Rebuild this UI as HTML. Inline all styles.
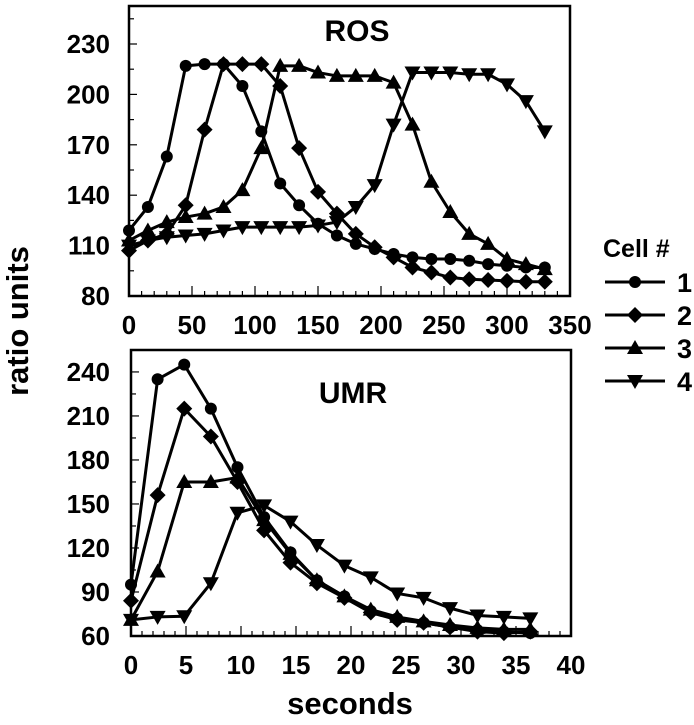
<!DOCTYPE html>
<html><head><meta charset="utf-8"><style>
html,body{margin:0;padding:0;background:#fff;}
svg text{font-family:"Liberation Sans",sans-serif;font-weight:bold;fill:#000;}
</style></head><body>
<svg id="chart" width="694" height="720" xmlns="http://www.w3.org/2000/svg">
<text transform="translate(28,321) rotate(-90)" text-anchor="middle" font-size="31">ratio units</text>
<text x="350" y="714" text-anchor="middle" font-size="31">seconds</text>
<text x="357" y="41" text-anchor="middle" font-size="30">ROS</text>
<text x="353" y="403" text-anchor="middle" font-size="30">UMR</text>
<g id="legend">
<text x="603" y="257" font-size="25">Cell #</text>
</g>
</svg>
<script>
// ROS panel data
const rosTimes = [0,15,30,45,60,75,90,105,120,135,150,165,180,195,210,225,240,255,270,285,300,315,330];
const rosCell1 = [119,133,163,217,218,218,205,178,147,134,123,116,111,108,105,103,102,102,101,99,98,97,97];
const rosCell2 = [107,113,117,134,179,218,218,218,205,168,142,129,117,109,103,97,94,91,90,89.5,89,88.5,88.5];
const rosCell3 = [113,119,124,127,129,133,143,168,217,217,213,211,211,211,207,182,148,130,117,111,102,99,96];
const rosCell4 = [110,113,115,116,117,119,121,121,121,121,122,124,133,146,182,213,213,213,212,212,206,196,178];
const rosYTicks = [80,110,140,170,200,230];
const rosXTicks = [0,50,100,150,200,250,300,350];
// UMR panel data
const umrTimes = [0,2.42,4.84,7.26,9.68,12.1,14.5,16.9,19.4,21.8,24.2,26.6,29,31.5,33.9,36.3];
const umrCell1 = [95,235,245,215,175,141,117,98,87,77,72,69,66,64,63,62];
const umrCell2 = [84,156,215,196,165,132,110,96,86,76,71,69,66,63,62,63];
const umrCell3 = [71,104,165,165,168,139,116,98,87,78,73,70,67.5,65.5,64.5,64.5];
const umrCell4 = [71,73,73.5,96,144,149,138,122,108,100,89,86,79,74,73,72];
const umrYTicks = [60,90,120,150,180,210,240];
const umrXTicks = [0,5,10,15,20,25,30,35,40];
const cellLabels = ['1','2','3','4'];

const NS='http://www.w3.org/2000/svg';
const svg=document.getElementById('chart');
function mk(tag,attrs,parent){const e=document.createElementNS(NS,tag);for(const k in attrs)e.setAttribute(k,attrs[k]);(parent||svg).appendChild(e);return e;}

const rosX=v=>129+(v-0)*(441/350);
const rosY=v=>296-(v-80)*1.68;
const umrX=v=>131+v*11;
const umrY=v=>636-(v-60)*1.467;

function marker(shape,cx,cy,parent){
  let e;
  if(shape===0){e=mk('circle',{cx:cx,cy:cy,r:6},parent);}
  else if(shape===1){e=mk('polygon',{points:`${cx},${cy-8} ${cx+8},${cy} ${cx},${cy+8} ${cx-8},${cy}`},parent);}
  else if(shape===2){e=mk('polygon',{points:`${cx},${cy-8} ${cx+8},${cy+6} ${cx-8},${cy+6}`},parent);}
  else {e=mk('polygon',{points:`${cx-8},${cy-6} ${cx+8},${cy-6} ${cx},${cy+8}`},parent);}
  e.setAttribute('fill','#000');
  return e;
}

function panel(name,x0,x1,y0,y1,xs,ys,times,series,yTicks,xTicks,yMinorStep,xMinorStep,yMin,yMax,xMax){
  const g=mk('g',{});
  
  
  const L=xs(0),R=xs(xMax),B=ys(yMin),T=y0;
  const fr=mk('rect',{x:L,y:T,width:R-L,height:B-T,fill:'none',stroke:'#000','stroke-width':2.5},g);
  
  
  for(let v=yMin;v<=yMax+0.01;v+=yMinorStep){
    const major=yTicks.includes(Math.round(v));
    const t=mk('line',{x1:L,x2:L+(major?8:5),y1:ys(v),y2:ys(v),stroke:'#000','stroke-width':1.2},g);
    
    
  }
  for(let v=0;v<=xMax+0.01;v+=xMinorStep){
    const major=xTicks.some(k=>Math.abs(k-v)<0.01);
    const t=mk('line',{x1:xs(v),x2:xs(v),y1:B,y2:B-(major?10:5),stroke:'#000','stroke-width':1.2},g);
    
    
  }
  yTicks.forEach(v=>{
    const t=mk('text',{x:110,y:ys(v)+9,'text-anchor':'end','font-size':26},g);
    t.textContent=v;
    
    
  });
  xTicks.forEach(v=>{
    const t=mk('text',{x:xs(v),y:B+38,'text-anchor':'middle','font-size':26},g);
    t.textContent=v;
    
    
  });
  series.forEach((vals,si)=>{
    const sg=mk('g',{},g);
    
    
    const pts=vals.map((v,i)=>xs(times[i])+','+ys(v)).join(' ');
    const pl=mk('polyline',{points:pts,fill:'none',stroke:'#000','stroke-width':3,'stroke-linejoin':'round'},sg);
    
    
    vals.forEach((v,i)=>{
      const m=marker(si,xs(times[i]),ys(v),sg);
      
      
    });
  });
}

panel('ros',129,570,6,296,rosX,rosY,rosTimes,[rosCell1,rosCell2,rosCell3,rosCell4],rosYTicks,rosXTicks,15,10,80,251,350);
panel('umr',131,571,350,636,umrX,umrY,umrTimes,[umrCell1,umrCell2,umrCell3,umrCell4],umrYTicks,umrXTicks,15,1,60,255,40);

const lg=document.getElementById('legend');
cellLabels.forEach((lab,i)=>{
  const y=282+i*33;
  const eg=mk('g',{},lg);
  
  
  mk('line',{x1:605,x2:665,y1:y,y2:y,stroke:'#000','stroke-width':3},eg);
  marker(i,635,y,eg);
  const t=mk('text',{x:677,y:y+10,'font-size':27},eg);
  t.textContent=lab;
  
  
});
</script>
</body></html>
